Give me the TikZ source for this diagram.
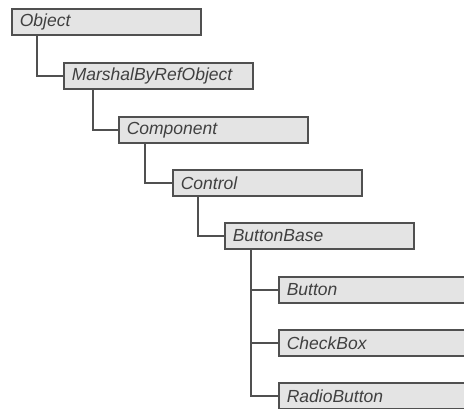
\documentclass[tikz,border=0pt]{standalone}
\usepackage{fontspec}
\setmainfont{Liberation Sans}
\usepackage{tikz}
\usetikzlibrary{calc,shadows}
\definecolor{mLine}{HTML}{505050}
\definecolor{mFill}{HTML}{E4E4E4}
\definecolor{mText}{HTML}{404040}

\tikzset{
  cls/.style={draw=mLine,line width=1.6pt,fill=mFill,anchor=north west,
    minimum height=26pt,text width=173pt,inner xsep=8pt,inner ysep=2pt,align=left,
    font=\itshape\fontsize{17.5}{19}\selectfont,text=mText,
    drop shadow={shadow xshift=1.2pt,shadow yshift=-1.2pt,opacity=0.35}},
  link/.style={draw=mLine,line width=1.6pt}
}

\begin{document}
\begin{tikzpicture}[x=1pt,y=-1pt]
        \useasboundingbox (0,0) rectangle (464,408);
        \node[cls] (obj) at (11,8) {Object};
        \node[cls] (mbro) at (63,62) {MarshalByRefObject};
        \node[cls] (comp) at (118,116) {Component};
        \node[cls] (ctrl) at (172,169) {Control};
        \node[cls] (bbase) at (224,222) {ButtonBase};
        \foreach \n/\t/\y in {btn/Button/276,chk/CheckBox/329,rad/RadioButton/382}
          \node[cls] (\n) at (278,\y) {\t};
        \draw[link] ($(obj.south west)+(26,0)$) |- (mbro.west);
        \draw[link] ($(mbro.south west)+(30,0)$) |- (comp.west);
        \draw[link] ($(comp.south west)+(27,0)$) |- (ctrl.west);
        \draw[link] ($(ctrl.south west)+(26,0)$) |- (bbase.west);
        \foreach \n in {btn,chk,rad}
          \draw[link] ($(bbase.south west)+(27,0)$) |- (\n.west);
      \end{tikzpicture}
\end{document}
